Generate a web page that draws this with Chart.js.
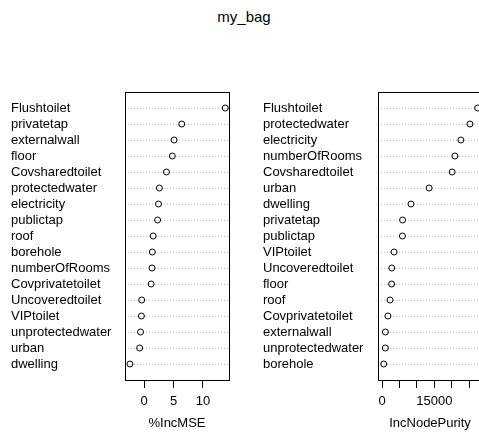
<!DOCTYPE html>
<html>
<head>
<meta charset="utf-8">
<title>my_bag</title>
<script src="https://cdn.jsdelivr.net/npm/chart.js@4"></script>
<style>
  html, body { margin: 0; padding: 0; background: #fff; overflow: hidden; }
  #wrap { position: relative; width: 479px; height: 438px; overflow: hidden; background: #fff; }
  #title { position: absolute; left: 0; top: 8px; width: 488px; text-align: center;
           font: 15px "Liberation Sans", Arial, sans-serif; line-height: 17px; color: #000; }
  canvas { position: absolute; top: 0; }
</style>
</head>
<body>
<div id="wrap">
  <div id="title">my_bag</div>
  <canvas id="mse" width="244" height="438" style="left:0px"></canvas>
  <canvas id="purity" width="244" height="438" style="left:244px"></canvas>
</div>
<script>
// Variable importance, mean decrease in accuracy (sorted)
const mseNames = ["Flushtoilet", "privatetap", "externalwall", "floor", "Covsharedtoilet",
  "protectedwater", "electricity", "publictap", "roof", "borehole", "numberOfRooms",
  "Covprivatetoilet", "Uncoveredtoilet", "VIPtoilet", "unprotectedwater", "urban", "dwelling"];
const mseValues = [13.8, 6.4, 5.1, 4.8, 3.8, 2.6, 2.45, 2.3, 1.55, 1.4, 1.35,
  1.2, -0.4, -0.45, -0.6, -0.75, -2.4];
const mseTicks = [0, 5, 10];

// Variable importance, increase in node purity (sorted)
const purityNames = ["Flushtoilet", "protectedwater", "electricity", "numberOfRooms",
  "Covsharedtoilet", "urban", "dwelling", "privatetap", "publictap", "VIPtoilet",
  "Uncoveredtoilet", "floor", "roof", "Covprivatetoilet", "externalwall",
  "unprotectedwater", "borehole"];
const purityValues = [27400, 25200, 22600, 20900, 20100, 13500, 8300, 5900, 5850, 3450,
  2800, 2750, 2300, 1700, 980, 950, 490];
const purityTicks = [0, 5000, 10000, 15000, 20000, 25000];
const purityTickLabels = [0, 15000];

const FONT = '"Liberation Sans", Arial, sans-serif';

// draws the full frame around the plotting region
const framePlugin = {
  id: 'frame',
  afterDraw(chart) {
    const {ctx, chartArea: a} = chart;
    ctx.save();
    ctx.strokeStyle = '#000';
    ctx.lineWidth = 1;
    ctx.strokeRect(a.left + 0.5, a.top + 0.5, a.right - a.left, a.bottom - a.top);
    ctx.restore();
  }
};

function dotPanel(canvasId, names, values, ticks, shownLabels, axisTitle, xMin, xMax, labelLeft, boxLeft, boxRight) {
  const canvas = document.getElementById(canvasId);
  const n = names.length;
  return new Chart(canvas, {
    type: 'scatter',
    data: {
      datasets: [{
        data: values.map((v, i) => ({x: v, y: i + 1})),
        pointRadius: 3,
        pointHoverRadius: 3,
        pointBorderWidth: 1,
        pointBorderColor: '#000',
        pointBackgroundColor: 'rgba(0,0,0,0)',
        showLine: false
      }]
    },
    options: {
      responsive: false,
      animation: false,
      events: [],
      layout: { padding: { left: labelLeft, right: canvas.width - boxRight, top: 92, bottom: 7 } },
      plugins: { legend: { display: false }, title: { display: false }, tooltip: { enabled: false } },
      scales: {
        x: {
          type: 'linear',
          position: 'bottom',
          min: xMin,
          max: xMax,
          afterBuildTicks: s => { s.ticks = ticks.map(v => ({value: v})); },
          afterFit: s => { s.height = 51; },
          border: { display: false },
          grid: { drawOnChartArea: false, drawTicks: true, tickLength: 8, tickColor: '#000', tickWidth: 1 },
          ticks: {
            autoSkip: false, maxRotation: 0, padding: 6, color: '#000',
            font: { family: FONT, size: 13 },
            callback: v => (shownLabels === null || shownLabels.includes(v)) ? String(v) : ''
          },
          title: { display: true, text: axisTitle, color: '#000', padding: 0,
                   font: { family: FONT, size: 13 } }
        },
        y: {
          type: 'linear',
          position: 'left',
          reverse: true,
          min: 0,
          max: n + 1,
          afterBuildTicks: s => { s.ticks = names.map((_, i) => ({value: i + 1})); },
          afterFit: s => { s.width = boxLeft - labelLeft; },
          border: { display: false, dash: [1, 2] },
          grid: { drawOnChartArea: true, drawTicks: false, color: '#bdbdbd', lineWidth: 1 },
          ticks: {
            autoSkip: false, crossAlign: 'far', color: '#000',
            font: { family: FONT, size: 13 },
            callback: v => names[v - 1] || ''
          }
        }
      }
    },
    plugins: [framePlugin]
  });
}

dotPanel('mse', mseNames, mseValues, mseTicks, null, '%IncMSE', -3.24, 14.43, 11, 125, 229);
dotPanel('purity', purityNames, purityValues, purityTicks, purityTickLabels, 'IncNodePurity', -1150, 28650, 19, 134, 238);
</script>
</body>
</html>
